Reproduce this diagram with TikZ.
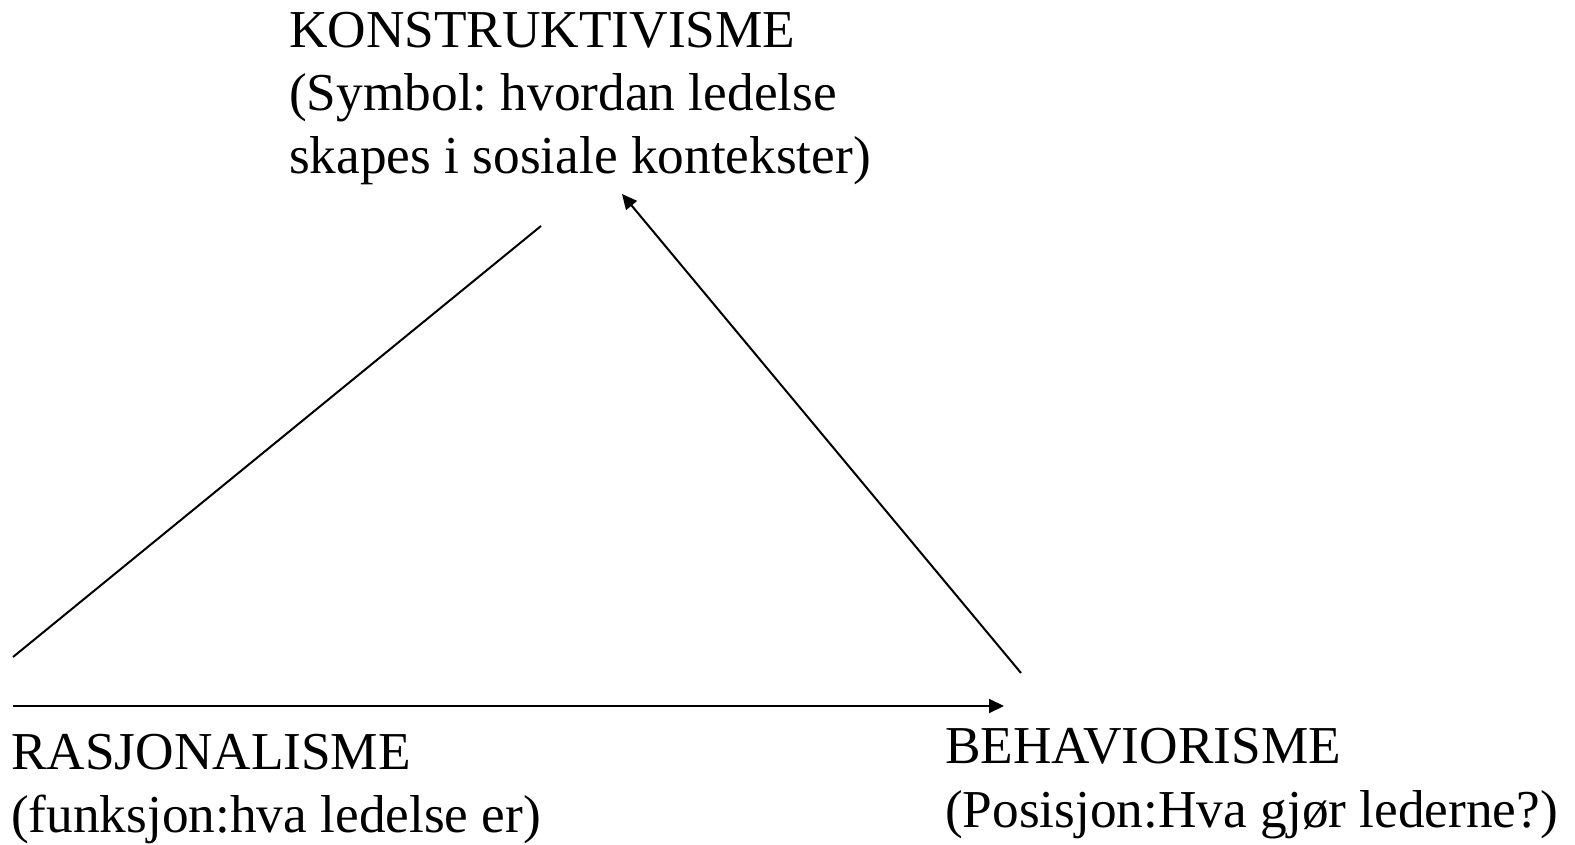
\documentclass[tikz,border=0pt]{standalone}
\usepackage{fontspec}
\setmainfont{Liberation Serif}
\usetikzlibrary{arrows.meta}
\frenchspacing
\begin{document}
\begin{tikzpicture}[x=1pt,y=-1pt,
  lbl/.style={anchor=base west,inner sep=0pt,font=\fontsize{53.3}{63}\selectfont},
  conn/.style={line width=2pt},
  arr/.style={conn,-{Triangle[length=15pt,width=14pt]}}]
\useasboundingbox (0,0) rectangle (1575,845);
% top block
\node[lbl] (k1) at (289,48) {KONSTRUKTIVISME};
\node[lbl] (k2) at (289,111) {(Symbol: hvordan ledelse};
\node[lbl] (k3) at (289,174) {skapes i sosiale kontekster)};
% bottom left
\node[lbl] (r1) at (11,769) {RASJONALISME};
\node[lbl] (r2) at (11,832) {(funksjon:hva ledelse er)};
% bottom right
\node[lbl] (b1) at (945,763) {BEHAVIORISME};
\node[lbl] (b2) at (945,827) {(Posisjon:Hva gjør lederne?)};
% connector end points
\coordinate (l1s) at (13,657);
\coordinate (l1e) at (541,226);
\coordinate (a2s) at (1021,673);
\coordinate (a2e) at (622,194);
\coordinate (a3s) at (13,706);
\coordinate (a3e) at (1004,706);
\draw[conn] (l1s) -- (l1e);
\draw[arr] (a2s) -- (a2e);
\draw[arr] (a3s) -- (a3e);
\end{tikzpicture}
\end{document}
